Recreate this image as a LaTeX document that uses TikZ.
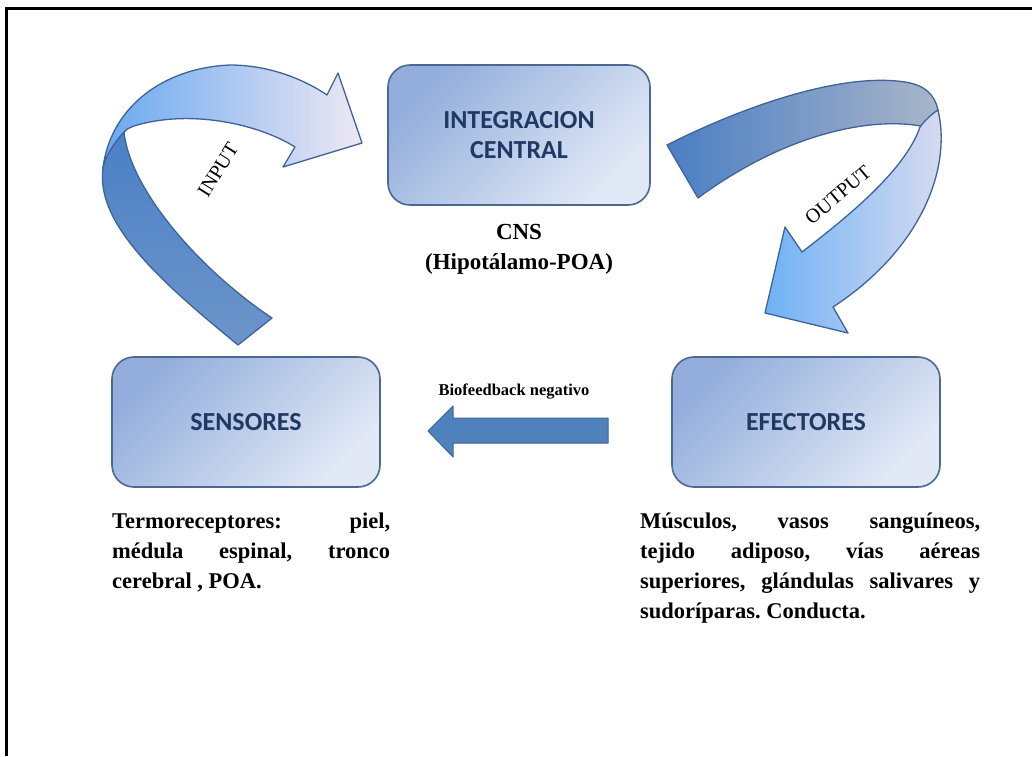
\documentclass[tikz,border=0pt]{standalone}
\usepackage{fontspec}
\setmainfont{Liberation Serif}
\newfontfamily\boxfont{Carlito}
\definecolor{boxdark}{HTML}{93AEDC}
\definecolor{boxlight}{HTML}{E2E9F6}
\definecolor{boxline}{HTML}{4A6890}
\definecolor{boxtext}{HTML}{1F3864}
\definecolor{bandline}{HTML}{3F6398}
\definecolor{inleft}{HTML}{6AA8F0}
\definecolor{inright}{HTML}{EEE8F3}
\definecolor{indarktop}{HTML}{4A80C6}
\definecolor{indarkbot}{HTML}{6C95CA}
\definecolor{outdarkl}{HTML}{4A7EC4}
\definecolor{outdarkr}{HTML}{A9B5C9}
\definecolor{outlightl}{HTML}{6FB1F6}
\definecolor{outlightr}{HTML}{DCDDF0}
\definecolor{fbblue}{HTML}{4F81BD}
\frenchspacing
\begin{document}
\begin{tikzpicture}[x=1pt,y=-1pt,
    stage/.style={draw=boxline, line width=1.6pt, rounded corners=22pt,
        top color=boxdark, bottom color=boxlight, shading angle=45,
        minimum width=268pt, minimum height=130pt,
        font=\boxfont\bfseries\fontsize{26}{30}\selectfont, text=boxtext, align=center},
    body/.style={inner sep=0pt, anchor=north west, align=justify,
        font=\bfseries\fontsize{22.5}{30}\selectfont},
    band/.style={draw=bandline, line width=1.3pt, line join=round}]
    \useasboundingbox (0,0) rectangle (1032,756);
    \draw[line width=3pt] (6,756) -- (6,8) -- (1032,8);
    \node[stage, minimum width=262pt, minimum height=140pt] (central) at (519,135) {INTEGRACION\\CENTRAL};
    \node[align=center, font=\bfseries\fontsize{23}{30}\selectfont] (cns) at (519,249) {CNS\\(Hipot\'alamo-POA)};
    \node[stage] (sensores) at (246,422) {SENSORES};
    \node[stage] (efectores) at (806,422) {EFECTORES};
    \node[body, text width=278pt] (termo) at (112,513) {Termoreceptores: piel,\linebreak m\'edula espinal, tronco\linebreak cerebral , POA.};
    \node[body, text width=340pt] (musc) at (640,513) {M\'usculos, vasos sangu\'ineos,\linebreak tejido adiposo, v\'ias a\'ereas\linebreak superiores, gl\'andulas salivares y\linebreak sudor\'iparas. Conducta.};
    \draw[draw=bandline, fill=fbblue, line width=1pt, line join=round] (608,418) -- (453,418) -- (453,406) -- (428,431) -- (453,457) -- (453,443) -- (608,443) -- cycle;
    \node[font=\bfseries\fontsize{16.5}{18}\selectfont] (fb) at (514,392) {Biofeedback negativo};
    \path[band, top color=indarktop, bottom color=indarkbot] (238,345) .. controls (165,285) and (95,225) .. (103,168) .. controls (106,150) and (114,140) .. (124,132) .. controls (130,190) and (200,270) .. (272,318) -- cycle;
    \path[band, left color=inleft, right color=inright] (103,168) .. controls (110,110) and (160,68) .. (230,65) .. controls (270,65) and (305,80) .. (327,95) -- (338,73) -- (362,143) -- (283,167) -- (295,147) .. controls (260,125) and (200,112) .. (150,122) .. controls (135,125) and (127,128) .. (124,132) .. controls (112,145) and (105,158) .. (103,168) -- cycle;
    \node[rotate=58, font=\fontsize{20}{22}\selectfont] (input) at (218,170) {INPUT};
    \path[band, left color=outdarkl, right color=outdarkr] (667,145) .. controls (740,108) and (840,72) .. (905,82) .. controls (925,85) and (935,95) .. (938,110) .. controls (935,118) and (933,124) .. (930,128) .. controls (880,115) and (790,130) .. (698,198) -- cycle;
    \path[band, left color=outlightl, right color=outlightr] (938,110) .. controls (952,170) and (920,250) .. (833,307) -- (848,333) -- (765,313) -- (785,227) -- (802,252) .. controls (850,215) and (905,170) .. (920,127) .. controls (925,120) and (933,113) .. (938,110) -- cycle;
    \node[rotate=40, font=\fontsize{20}{22}\selectfont] (output) at (838,195) {OUTPUT};
\end{tikzpicture}
\end{document}
